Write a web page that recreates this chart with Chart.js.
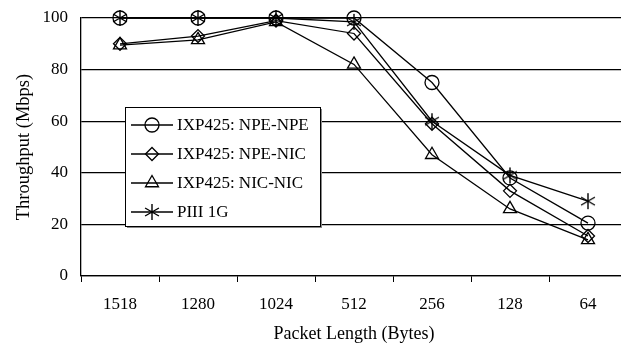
<!DOCTYPE html>
<html>
<head>
<meta charset="utf-8">
<script src="https://cdn.jsdelivr.net/npm/chart.js@4/dist/chart.umd.min.js"></script>
<style>
  html, body { margin: 0; padding: 0; background: #fff; overflow: hidden; }
  #wrap { width: 621px; height: 346px; overflow: hidden; }
</style>
</head>
<body>
<div id="wrap"><canvas id="chart" width="640" height="346"></canvas></div>
<script>
const packetLengths = ['1518', '1280', '1024', '512', '256', '128', '64'];
const npeNpe = [100, 100, 100, 100, 75, 38, 20.5];
const npeNic = [90, 93, 99, 94, 59, 33, 15.5];
const nicNic = [89.5, 91.5, 98.5, 82, 47, 26, 14];
const piii = [100, 100, 100, 98.5, 60, 39, 29];
const seriesNames = ['IXP425: NPE-NPE', 'IXP425: NPE-NIC', 'IXP425: NIC-NIC', 'PIII 1G'];
const yTicks = [0, 20, 40, 60, 80, 100];

const font = "'Liberation Serif', 'Times New Roman', serif";

// asterisk marker (vertical + two diagonals)
function asterisk(size) {
  const c = document.createElement('canvas');
  c.width = size; c.height = size;
  const g = c.getContext('2d');
  const m = size / 2, r = size / 2 - 1;
  g.strokeStyle = '#000';
  g.lineWidth = 1.4;
  g.beginPath();
  for (let a of [90, 30, -30]) {
    const rad = a * Math.PI / 180;
    g.moveTo(m - r * Math.cos(rad), m - r * Math.sin(rad));
    g.lineTo(m + r * Math.cos(rad), m + r * Math.sin(rad));
  }
  g.stroke();
  return c;
}
const star = asterisk(18);

function series(label, data, style, radius) {
  return {
    label: label,
    data: data,
    borderColor: '#000',
    borderWidth: 1.3,
    pointStyle: style,
    pointRadius: radius,
    pointBorderColor: '#000',
    pointBackgroundColor: 'rgba(0,0,0,0)',
    pointBorderWidth: 1.3,
    tension: 0,
    clip: false
  };
}

const boxLegend = {
  id: 'boxLegend',
  afterDatasetsDraw(chart) {
    const ctx = chart.ctx;
    const x0 = 125, y0 = 107, w = 195, h = 119;
    ctx.save();
    ctx.fillStyle = '#888';
    ctx.fillRect(x0 + 2, y0 + 2, w, h);
    ctx.fillStyle = '#fff';
    ctx.fillRect(x0, y0, w, h);
    ctx.strokeStyle = '#000';
    ctx.lineWidth = 1;
    ctx.strokeRect(x0 + 0.5, y0 + 0.5, w, h);
    chart.data.datasets.forEach((ds, i) => {
      const y = 125 + i * 29;
      ctx.strokeStyle = '#000';
      ctx.lineWidth = 1.3;
      ctx.beginPath();
      ctx.moveTo(131, y);
      ctx.lineTo(173, y);
      ctx.stroke();
      ctx.fillStyle = 'rgba(0,0,0,0)';
      Chart.helpers.drawPoint(ctx, {
        pointStyle: ds.pointStyle,
        radius: ds.pointRadius,
        borderWidth: 1.3,
        rotation: 0
      }, 152, y);
      ctx.fillStyle = '#000';
      ctx.font = '17px ' + font;
      ctx.textBaseline = 'middle';
      ctx.textAlign = 'left';
      ctx.fillText(ds.label, 177, y + 1);
    });
    ctx.restore();
  }
};

new Chart(document.getElementById('chart'), {
  type: 'line',
  data: {
    labels: packetLengths,
    datasets: [
      series(seriesNames[0], npeNpe, 'circle', 7),
      series(seriesNames[1], npeNic, 'rectRot', 6.5),
      series(seriesNames[2], nicNic, 'triangle', 7.5),
      series(seriesNames[3], piii, star, 9)
    ]
  },
  options: {
    responsive: false,
    animation: false,
    layout: { padding: { top: 18, right: 13, left: 0, bottom: 0 } },
    plugins: { legend: { display: false }, tooltip: { enabled: false } },
    scales: {
      x: {
        offset: true,
        grid: {
          offset: true,
          drawOnChartArea: false,
          drawTicks: true,
          tickLength: 6,
          color: '#000'
        },
        border: { color: '#000', width: 1.3 },
        ticks: { color: '#000', font: { family: font, size: 17 }, padding: 12, maxRotation: 0 },
        title: { display: true, text: 'Packet Length (Bytes)', color: '#000', font: { family: font, size: 18 }, padding: { top: 4, bottom: 1 } },
        afterFit(scale) { scale.height = 70; }
      },
      y: {
        min: 0,
        max: 100,
        afterBuildTicks(scale) { scale.ticks = yTicks.map(v => ({ value: v })); },
        grid: { color: '#000', lineWidth: 1.2, drawTicks: true, tickLength: 13, tickColor: 'rgba(0,0,0,0)' },
        border: { color: '#000', width: 1.3 },
        ticks: { color: '#000', font: { family: font, size: 17 }, padding: 0 },
        title: { display: true, text: 'Throughput (Mbps)', color: '#000', font: { family: font, size: 18.5 }, padding: { top: 13, bottom: 8 } },
        afterFit(scale) { scale.width = 81; }
      }
    }
  },
  plugins: [boxLegend]
});
</script>
</body>
</html>
